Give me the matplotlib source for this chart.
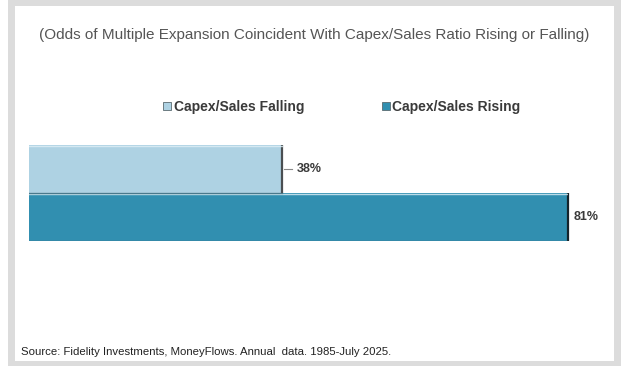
import matplotlib
matplotlib.use("Agg")
import matplotlib.pyplot as plt
from matplotlib.patches import Rectangle

plt.rcParams['font.family'] = ['Liberation Sans', 'DejaVu Sans']

# data
series = ['Capex/Sales Rising', 'Capex/Sales Falling']
values = [81, 38]
labels = ['81%', '38%']
colors = ['#318fb0', '#aed2e3']
legend_order = ['Capex/Sales Falling', 'Capex/Sales Rising']

title = '(Odds of Multiple Expansion Coincident With Capex/Sales Ratio Rising or Falling)'
source = 'Source: Fidelity Investments, MoneyFlows. Annual  data. 1985-July 2025.'

W, H = 624, 370
fig = plt.figure(figsize=(W / 100, H / 100), dpi=100)
fig.patch.set_facecolor('white')

# grey frame around the white panel
def px(x0, y0, x1, y1):
    # pixel box (top-left origin) -> figure fraction
    return x0 / W, 1 - y1 / H, (x1 - x0) / W, (y1 - y0) / H

fx, fy, fw, fh = px(8, 0, 621, 366)
fig.patches.append(Rectangle((fx, fy), fw, fh, transform=fig.transFigure,
                             facecolor='#dcdcdc', edgecolor='none', zorder=0))
fx, fy, fw, fh = px(15, 6, 614, 361)
fig.patches.append(Rectangle((fx, fy), fw, fh, transform=fig.transFigure,
                             facecolor='white', edgecolor='none', zorder=0))

# bar axes: value 0..81 spans pixels 29..568
ax = fig.add_axes(px(29, 145, 568, 241))
ax.set_zorder(3)
ax.set_xlim(0, max(values))
ax.set_ylim(-0.5, 1.5)
ax.axis('off')

ypos = [0, 1]
edge_dark = ['#15242b', '#4a4f52']
bars = ax.barh(ypos, values, height=1.0, color=colors, edgecolor='none', zorder=2)
for b, v, y, ed in zip(bars, values, ypos, edge_dark):
    b.set_label(series[ypos.index(y)])
    # 3d-ish shading: darker right side and bottom, lighter top
    ax.plot([v, v], [y - 0.5, y + 0.5], color=ed, lw=1.6, zorder=3,
            solid_capstyle='butt', clip_on=False)
    ax.plot([0, v], [y - 0.49, y - 0.49], color='#4a6a78', lw=1.0, zorder=3, alpha=0.7)
    ax.plot([0, v], [y + 0.48, y + 0.48], color='#dff0f7', lw=1.0, zorder=3, alpha=0.8)

# value labels
ax.plot([values[1] + 0.3, values[1] + 1.5], [1, 1], color='#888888', lw=0.8,
        clip_on=False)
ax.text(values[1] + 2.2, 1, labels[1], ha='left', va='center', fontsize=9,
        fontweight='bold', color='#3a3a3a')
ax.text(values[0] + 0.8, 0, labels[0], ha='left', va='center', fontsize=9,
        fontweight='bold', color='#3a3a3a')

fig.text(314 / W, 1 - 35 / H, title, ha='center', va='center', fontsize=11,
         color='#555555')
fig.text(21 / W, 1 - 352 / H, source, ha='left', va='center', fontsize=8.2,
         color='#222222')

handles = [bars[series.index(s)] for s in legend_order]
leg = fig.legend(handles, legend_order, loc='center', bbox_to_anchor=(342 / W, 1 - 107 / H),
                 ncol=2, frameon=False, handlelength=0.55, handleheight=0.55,
                 handletextpad=0.2, columnspacing=5.6,
                 prop={'size': 10, 'weight': 'bold'})
for t in leg.get_texts():
    t.set_color('#3a3a3a')
for h in leg.legend_handles:
    h.set_edgecolor('#5a6a70')
    h.set_linewidth(0.6)

fig.savefig('out.png', dpi=100)
